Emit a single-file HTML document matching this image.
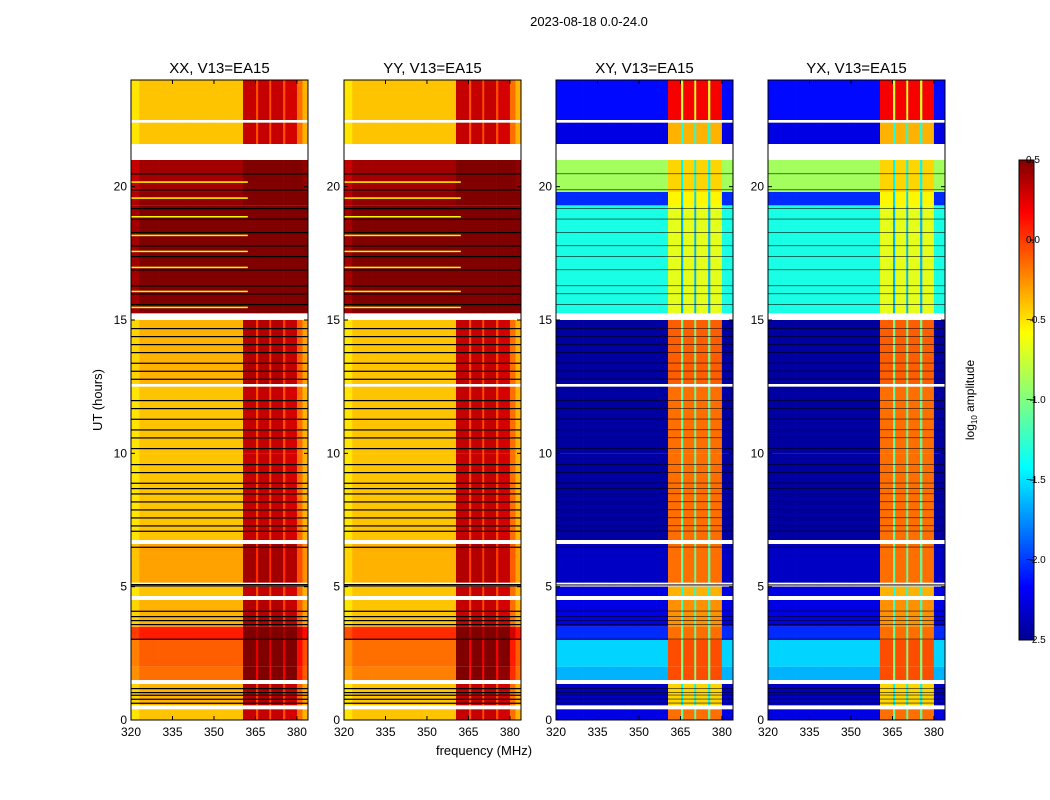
<!DOCTYPE html>
<html><head><meta charset="utf-8"><style>
body{margin:0;background:#fff;}
svg{display:block;font-family:"Liberation Sans",sans-serif;}
</style></head><body>
<svg id="fig" width="1050" height="800" viewBox="0 0 1050 800">
<text x="589" y="26" font-size="13" text-anchor="middle">2023-08-18 0.0-24.0</text>
<g id="panels"></g>
<text x="484" y="755" font-size="13" text-anchor="middle">frequency (MHz)</text>
<text transform="translate(102,400) rotate(-90)" font-size="13" text-anchor="middle">UT (hours)</text>
<defs><linearGradient id="jet" x1="0" y1="1" x2="0" y2="0">
<stop offset="0" stop-color="#00008f"/><stop offset="0.11" stop-color="#0000ff"/><stop offset="0.36" stop-color="#00ffff"/>
<stop offset="0.5" stop-color="#80ff80"/><stop offset="0.64" stop-color="#ffff00"/><stop offset="0.89" stop-color="#ff0000"/><stop offset="1" stop-color="#800000"/>
</linearGradient></defs>
<rect x="1019" y="160" width="15" height="480" fill="url(#jet)" stroke="#000" stroke-width="1"/>
<g id="cbticks"></g>
<text transform="translate(974,400) rotate(-90)" font-size="12" text-anchor="middle">log<tspan font-size="8" dy="3">10</tspan><tspan dy="-3"> amplitude</tspan></text>
</svg>
<script>
// ---- data ----
const panelTitles = ["XX, V13=EA15","YY, V13=EA15","XY, V13=EA15","YX, V13=EA15"];
const freqEdges = [320,323,330,340,350,360.5,365.2,366,370,370.7,375,375.8,380,382,384];
const parallelBoost = [-0.1,0,0,0,0,0.75,0.35,0.75,0.35,0.75,0.35,0.7,0.25,0.05];
const crossBandMask = [0,0,0,0,0,1,2,1,2,1,2,1,0,0];
const segStart = [0,0.55,1.5,2.0,3.0,3.5,4.65,5.15,6.75,10.0,12.6,15.25,19.3,19.8,21.6,22.5];
const segEnd   = [0.4,1.35,2.0,3.0,3.5,4.5,5.0,6.6,10.0,12.5,15.0,19.3,19.8,21.0,22.4,24];
const xxLevel  = [-0.45,-0.4,-0.2,-0.15,0.05,-0.4,-0.45,-0.35,-0.45,-0.45,-0.4,0.5,0.45,0.4,-0.45,-0.45];
const yyLevel  = [-0.45,-0.45,-0.25,-0.2,0.0,-0.45,-0.45,-0.4,-0.45,-0.45,-0.45,0.5,0.45,0.4,-0.45,-0.45];
const crossLevel = [-2.2,-2.3,-1.6,-1.5,-2.0,-2.2,-2.2,-2.3,-2.4,-2.4,-2.4,-1.3,-2.0,-0.9,-2.2,-2.1];
const crossBand  = [-0.2,-0.5,-0.1,-0.1,-0.2,-0.3,-0.4,-0.2,-0.2,-0.2,-0.15,-0.7,-0.6,-0.5,-0.4,0.15];
const blackHours = [0.65,0.8,0.95,1.05,1.2,3.05,3.6,3.75,3.9,4.1,5.05,5.1,6.5,7.1,7.3,7.6,7.9,8.2,8.5,8.7,8.9,9.3,9.6,10.2,10.6,10.9,11.3,11.7,12.0,12.8,13.1,13.4,13.8,14.1,14.4,14.7,15.6,16.0,16.3,16.9,17.4,17.8,18.3,18.8,19.2,19.9,20.5];
const yellowHours = [15.5,16.1,17.0,17.6,18.2,18.9,19.6,20.2];
const xTicks = [320,335,350,365,380];
const yTicks = [0,5,10,15,20];
const cbTicks = [0.5,0.0,-0.5,-1.0,-1.5,-2.0,-2.5];

// ---- helpers ----
const NS="http://www.w3.org/2000/svg";
function jet(v){let t=(v+2.5)/3;t=Math.max(0,Math.min(1,t));
 const c=x=>Math.round(255*Math.max(0,Math.min(1,x)));
 const r=1.5-Math.abs(4*t-3),g=1.5-Math.abs(4*t-2),b=1.5-Math.abs(4*t-1);
 return `rgb(${c(r)},${c(g)},${c(b)})`;}
function mk(tag,attrs,parent){const e=document.createElementNS(NS,tag);for(const k in attrs)e.setAttribute(k,attrs[k]);parent.appendChild(e);return e;}
const panelX=[131,344,556,768], PW=177, PT=80, PB=720;
const yScale=h=>PB-(h/24)*(PB-PT);
const panels=document.getElementById('panels');
panelX.forEach((x0,p)=>{
 const xs=f=>x0+(f-320)/(384-320)*PW;
 const g=mk('g',{},panels);
 
 
 const t=mk('text',{x:x0+PW/2,y:73,'font-size':15,'text-anchor':'middle'},g);t.textContent=panelTitles[p];
 
 
 for(let s=0;s<segStart.length;s++){
  for(let c=0;c<freqEdges.length-1;c++){
   let v;
   if(p<2){v=(p==0?xxLevel[s]:yyLevel[s])+parallelBoost[c];}
   else{const m=crossBandMask[c];v=m==1?crossBand[s]:(m==2?crossBand[s]-0.9:crossLevel[s]);}
   const y1=yScale(segEnd[s]),y2=yScale(segStart[s]);
   const r=mk('rect',{x:xs(freqEdges[c]),y:y1,width:xs(freqEdges[c+1])-xs(freqEdges[c])+0.3,height:y2-y1,fill:jet(v)},g);
   
   
  }
 }
 if(p<2){yellowHours.forEach(h=>{const l=mk('rect',{x:x0,y:yScale(h),width:PW*0.66,height:1.5,fill:jet(-0.6)},g);
   
   });}
 blackHours.forEach(h=>{const l=mk('rect',{x:x0,y:yScale(h),width:PW,height:p<2?1.2:0.8,fill:'#000','fill-opacity':p<2?1:0.7},g);
   
   });
 const fr=mk('rect',{x:x0,y:PT,width:PW,height:PB-PT,fill:'none',stroke:'#000','stroke-width':1},g);
 
 
 xTicks.forEach(f=>{const X=xs(f);mk('line',{x1:X,x2:X,y1:PB,y2:PB-4,stroke:'#000'},g);mk('line',{x1:X,x2:X,y1:PT,y2:PT+4,stroke:'#000'},g);
  const tx=mk('text',{x:X,y:PB+16,'font-size':12,'text-anchor':'middle'},g);tx.textContent=f;
  
  });
 yTicks.forEach(h=>{const Y=yScale(h);mk('line',{x1:x0,x2:x0+4,y1:Y,y2:Y,stroke:'#000'},g);mk('line',{x1:x0+PW,x2:x0+PW-4,y1:Y,y2:Y,stroke:'#000'},g);
  const ty=mk('text',{x:x0-4,y:Y+4,'font-size':12,'text-anchor':'end'},g);ty.textContent=h;
  
  });
});
const cbg=document.getElementById('cbticks');
cbTicks.forEach(v=>{const Y=160+(0.5-v)/3*480;mk('line',{x1:1030,x2:1034,y1:Y,y2:Y,stroke:'#000'},cbg);
 const t=mk('text',{x:1026,y:Y+3,'font-size':10},cbg);t.textContent=(v<0?'\u2212':'')+Math.abs(v).toFixed(1);
 
 });
</script>
</body></html>
